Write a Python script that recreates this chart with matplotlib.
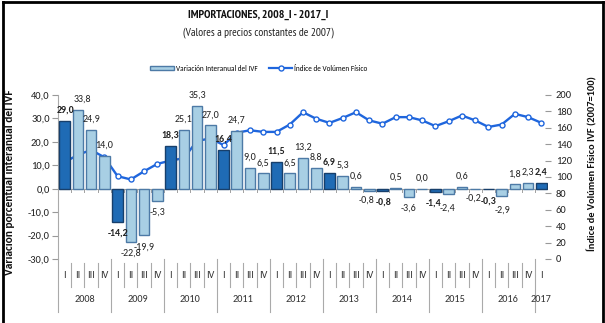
import matplotlib
matplotlib.use("Agg")
import matplotlib.pyplot as plt
from matplotlib.lines import Line2D
from matplotlib.patches import Patch
import numpy as np

# ---------------- data ----------------
years = ["2008", "2009", "2010", "2011", "2012", "2013", "2014", "2015", "2016", "2017"]
quarters = ["I", "II", "III", "IV"]
variacion = [29.0, 33.8, 24.9, 14.0,
             -14.2, -22.8, -19.9, -5.3,
             18.3, 25.1, 35.3, 27.0,
             16.4, 24.7, 9.0, 6.5,
             11.5, 6.5, 13.2, 8.8,
             6.9, 5.3, 0.6, -0.8,
             -0.8, 0.5, -3.6, 0.0,
             -1.4, -2.4, 0.6, -0.2,
             -0.3, -2.9, 1.8, 2.3,
             2.4]
ivf = [118, 127, 133, 124,
       101, 97, 107, 116,
       120, 123, 144, 147,
       139, 154, 157, 155,
       155, 164, 179, 171,
       166, 172, 179, 169,
       165, 173, 173, 169,
       162, 168, 175, 169,
       161, 164, 177, 173,
       166]

BODY = ["Carlito", "DejaVu Sans"]
NARROW = ["PT Sans Narrow", "Archivo Narrow", "DejaVu Sans"]
plt.rcParams["font.family"] = BODY

n = len(variacion)
x = np.arange(n)
q_labels = [quarters[i % 4] for i in range(n)]
is_q1 = [i % 4 == 0 for i in range(n)]

W, H = 605, 323
fig = plt.figure(figsize=(W / 100, H / 100), dpi=100)
fig.patch.set_facecolor("white")

L, R, T, B = 58, 548, 95, 259
ax = fig.add_axes([L / W, 1 - B / H, (R - L) / W, (B - T) / H])
ax2 = ax.twinx()
ax.set_zorder(2)
ax2.set_zorder(1)
ax.patch.set_visible(False)

light = "#a8cfe4"
light_edge = "#4d7aa6"
dark = "#1f6bb5"
dark_edge = "#173f6b"
cols = [dark if q else light for q in is_q1]
ecols = [dark_edge if q else light_edge for q in is_q1]

ax.bar(x, variacion, width=0.8, color=cols, edgecolor=ecols, linewidth=1.0, zorder=3)
ax.set_xlim(-0.5, n - 0.5)
ax.set_ylim(-30, 40)
ax.set_yticks(np.arange(-30, 41, 10))
ax.set_yticklabels([f"{v:.1f}".replace(".", ",") for v in np.arange(-30, 41, 10)], fontsize=7.6, color="#222222")
ax.tick_params(axis="y", direction="out", length=4, color="#999999", pad=2)
ax.set_xticks([])
for s in ["top", "right", "bottom"]:
    ax.spines[s].set_visible(False)
ax.spines["left"].set_color("#aaaaaa")

ax.axhline(0, color="#a0a0a0", lw=0.8, zorder=2)
for b in np.arange(-0.5, n, 1.0):
    ax.plot([b, b], [0, -1.3], color="#a0a0a0", lw=0.7, zorder=2)

# label offsets (points) for crowded labels
dx = {0: 1, 1: 3, 23: -2, 24: 0.5, 28: -1, 29: -1, 31: -1.5, 32: 0, 33: 0.5}
dy = {23: 1, 24: 0, 28: 0, 29: -2, 31: 2, 32: 0, 33: -2}
for i, v in enumerate(variacion):
    lab = f"{v:.1f}".replace(".", ",")
    fw = "bold" if is_q1[i] else "normal"
    ox = dx.get(i, 0)
    if v >= 0:
        ax.annotate(lab, (i, v), xytext=(ox, 4.5), textcoords="offset points",
                    ha="center", va="bottom", fontsize=7.2, fontweight=fw, color="#222222", zorder=5)
    else:
        ax.annotate(lab, (i, v), xytext=(ox, -5 + dy.get(i, 0)), textcoords="offset points",
                    ha="center", va="top", fontsize=7.2, fontweight=fw, color="#222222", zorder=5)

line_col = "#1f66dd"
ax2.plot(x, ivf, color=line_col, lw=1.7, marker="o", markersize=3.6,
         markerfacecolor="white", markeredgecolor=line_col, markeredgewidth=1.0, zorder=4)
ax2.set_ylim(0, 200)
ax2.set_yticks(np.arange(0, 201, 20))
ax2.set_yticklabels([str(v) for v in np.arange(0, 201, 20)], fontsize=7.6, color="#222222")
ax2.tick_params(axis="y", direction="inout", length=5, color="#999999", pad=3)
for s in ["top", "left", "bottom", "right"]:
    ax2.spines[s].set_visible(False)

trans = ax.get_xaxis_transform()
def yfrac(py):
    return (B - py) / (B - T)

for i in range(n):
    ax.text(i, yfrac(275), q_labels[i], transform=trans, ha="center", va="center",
            fontsize=7.2, color="#333333", clip_on=False)
for i in range(1, n):
    if i % 4 == 0:
        ax.plot([i - 0.5, i - 0.5], [yfrac(259), yfrac(312)], transform=trans,
                color="#aaaaaa", lw=0.8, clip_on=False)
    else:
        ax.plot([i - 0.5, i - 0.5], [yfrac(263), yfrac(287)], transform=trans,
                color="#aaaaaa", lw=0.8, clip_on=False)
ax.plot([-0.5, -0.5], [yfrac(259), yfrac(312)], transform=trans, color="#aaaaaa", lw=0.8, clip_on=False)
for k, yr in enumerate(years):
    start = 4 * k
    end = min(4 * k + 3, n - 1)
    ax.text((start + end) / 2, yfrac(300), yr, transform=trans, ha="center", va="center",
            fontsize=7.4, color="#333333", clip_on=False)

fig.text(10 / W, 1 - 182 / H, "Variación porcentual interanual del IVF", rotation=90,
         ha="center", va="center", fontsize=8.2, fontweight="bold", color="#111111")
fig.text(592 / W, 1 - 164 / H, "Índice de Volúmen Físico IVF (2007=100)", rotation=90,
         ha="center", va="center", fontsize=7.5, fontweight="bold", color="#111111")

fig.text(258 / W, 1 - 15 / H, "IMPORTACIONES, 2008_I - 2017_I", ha="center", va="center",
         fontsize=8.5, fontweight="bold", color="#111111", family=NARROW)
fig.text(258 / W, 1 - 33 / H, "(Valores a precios constantes de 2007)", ha="center", va="center",
         fontsize=8.2, color="#222222", family=NARROW)

handles = [Patch(facecolor=light, edgecolor=light_edge, linewidth=1.0),
           Line2D([0], [0], color=line_col, lw=1.6, marker="o", markersize=3.6,
                  markerfacecolor="white", markeredgecolor=line_col)]
fig.legend(handles, ["Variación Interanual del IVF", "Índice de Volúmen Físico"],
           loc="center", bbox_to_anchor=(259 / W, 1 - 68 / H), ncol=2, frameon=False,
           fontsize=5.2, handlelength=3.2, handleheight=0.45, columnspacing=1.6, handletextpad=0.3)

fl, fr, ft = 2.5 / W, 602.5 / W, 1 - 1.5 / H
fig.add_artist(Line2D([fl, fl], [0, ft], transform=fig.transFigure, color="black", lw=2))
fig.add_artist(Line2D([fr, fr], [0, ft], transform=fig.transFigure, color="black", lw=2))
fig.add_artist(Line2D([fl, fr], [ft, ft], transform=fig.transFigure, color="black", lw=2))

fig.savefig("out.png", dpi=100, facecolor="white")
